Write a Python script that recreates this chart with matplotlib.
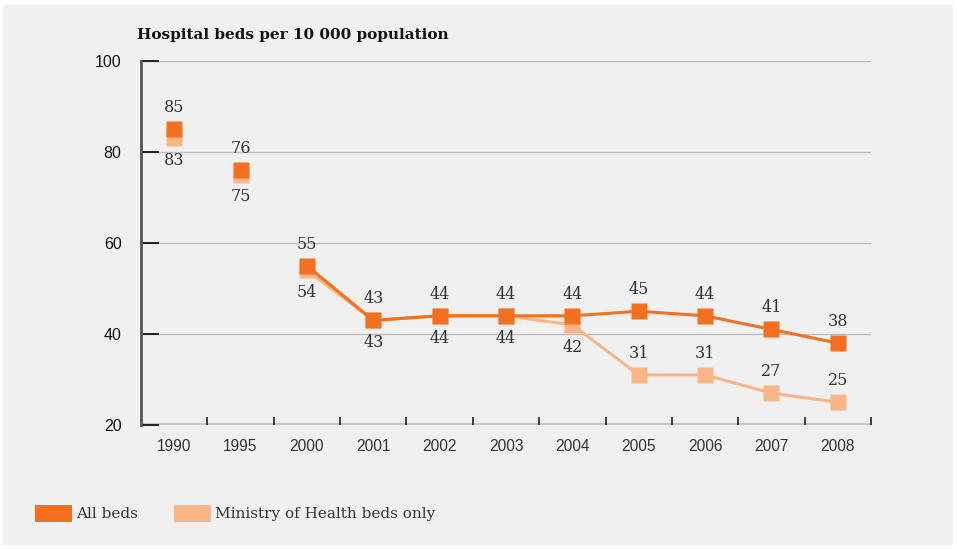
import matplotlib
matplotlib.use("Agg")
import matplotlib.pyplot as plt
from matplotlib.patches import Rectangle

years = ["1990", "1995", "2000", "2001", "2002", "2003", "2004", "2005", "2006", "2007", "2008"]
all_beds = [85, 76, 55, 43, 44, 44, 44, 45, 44, 41, 38]
moh_beds = [83, 75, 54, 43, 44, 44, 42, 31, 31, 27, 25]
yticks = [20, 40, 60, 80, 100]

c_all = "#f37021"
c_moh = "#fbb584"
txt = "#333333"
serif = "DejaVu Serif"
sans = "Liberation Sans"

fig = plt.figure(figsize=(9.57, 5.49), dpi=100, facecolor="white")
fig.patches.append(Rectangle((3 / 957, 4 / 549), 950 / 957, 540 / 549, transform=fig.transFigure,
                             facecolor="#f0f0f0", edgecolor="none", zorder=-10))

ax = fig.add_axes([141 / 957, (549 - 425) / 549, 730 / 957, 364 / 549])
ax.set_facecolor("none")
x = list(range(len(years)))

# lines only from 2000 on
ax.plot(x[2:], moh_beds[2:], color=c_moh, lw=2.2, zorder=2)
ax.plot(x[2:], all_beds[2:], color=c_all, lw=2.2, zorder=4)
ax.plot(x, moh_beds, ls="none", marker="s", ms=11.5, color=c_moh, mec="none", zorder=3)
ax.plot(x, all_beds, ls="none", marker="s", ms=11.5, color=c_all, mec="none", zorder=5)

for i in x:
    ax.annotate(str(all_beds[i]), (i, all_beds[i]), xytext=(0, 15.5), textcoords="offset points",
                ha="center", va="center", fontsize=11.5, family=serif, color=txt)
    off = 15.5 if i >= 7 else -16
    ax.annotate(str(moh_beds[i]), (i, moh_beds[i]), xytext=(0, off), textcoords="offset points",
                ha="center", va="center", fontsize=11.5, family=serif, color=txt)

ax.set_xlim(-0.5, len(years) - 0.5)
ax.set_ylim(20, 100)
ax.set_yticks(yticks)
ax.set_yticklabels([str(v) for v in yticks], family=sans, fontsize=11.5, color="#111111")
for v in yticks[1:]:
    ax.axhline(v, color="#bdbdbd", lw=1, zorder=1)
ax.axhline(20, color="#c4c4c4", lw=3, zorder=1)
ax.tick_params(axis="y", direction="in", length=13, width=1.2, color="black", pad=14)

ax.set_xticks(x)
ax.set_xticklabels(years, family=sans, fontsize=11.2, color=txt)
ax.tick_params(axis="x", which="major", length=0, pad=10)
ax.set_xticks([k - 0.5 for k in range(1, len(years) + 1)], minor=True)
ax.tick_params(axis="x", which="minor", direction="in", length=6, width=1.2, color="#222222")

for s in ["top", "right", "bottom"]:
    ax.spines[s].set_visible(False)
ax.spines["left"].set_color("#555555")
ax.spines["left"].set_linewidth(2)

fig.text(137 / 957, 1 - 35 / 549, "Hospital beds per 10 000 population", family=serif,
         fontweight="bold", fontsize=11, color="#111111", va="center")

# legend
fig.patches.append(Rectangle((35 / 957, 1 - 522 / 549), 37 / 957, 17 / 549, transform=fig.transFigure,
                             facecolor=c_all, edgecolor="none"))
fig.text(76 / 957, 1 - 514 / 549, "All beds", family=serif, fontsize=11, color=txt, va="center")
fig.patches.append(Rectangle((174 / 957, 1 - 522 / 549), 37 / 957, 17 / 549, transform=fig.transFigure,
                             facecolor=c_moh, edgecolor="none"))
fig.text(215 / 957, 1 - 514 / 549, "Ministry of Health beds only", family=serif, fontsize=11,
         color=txt, va="center")

fig.savefig("out.png", dpi=100, facecolor="white")
